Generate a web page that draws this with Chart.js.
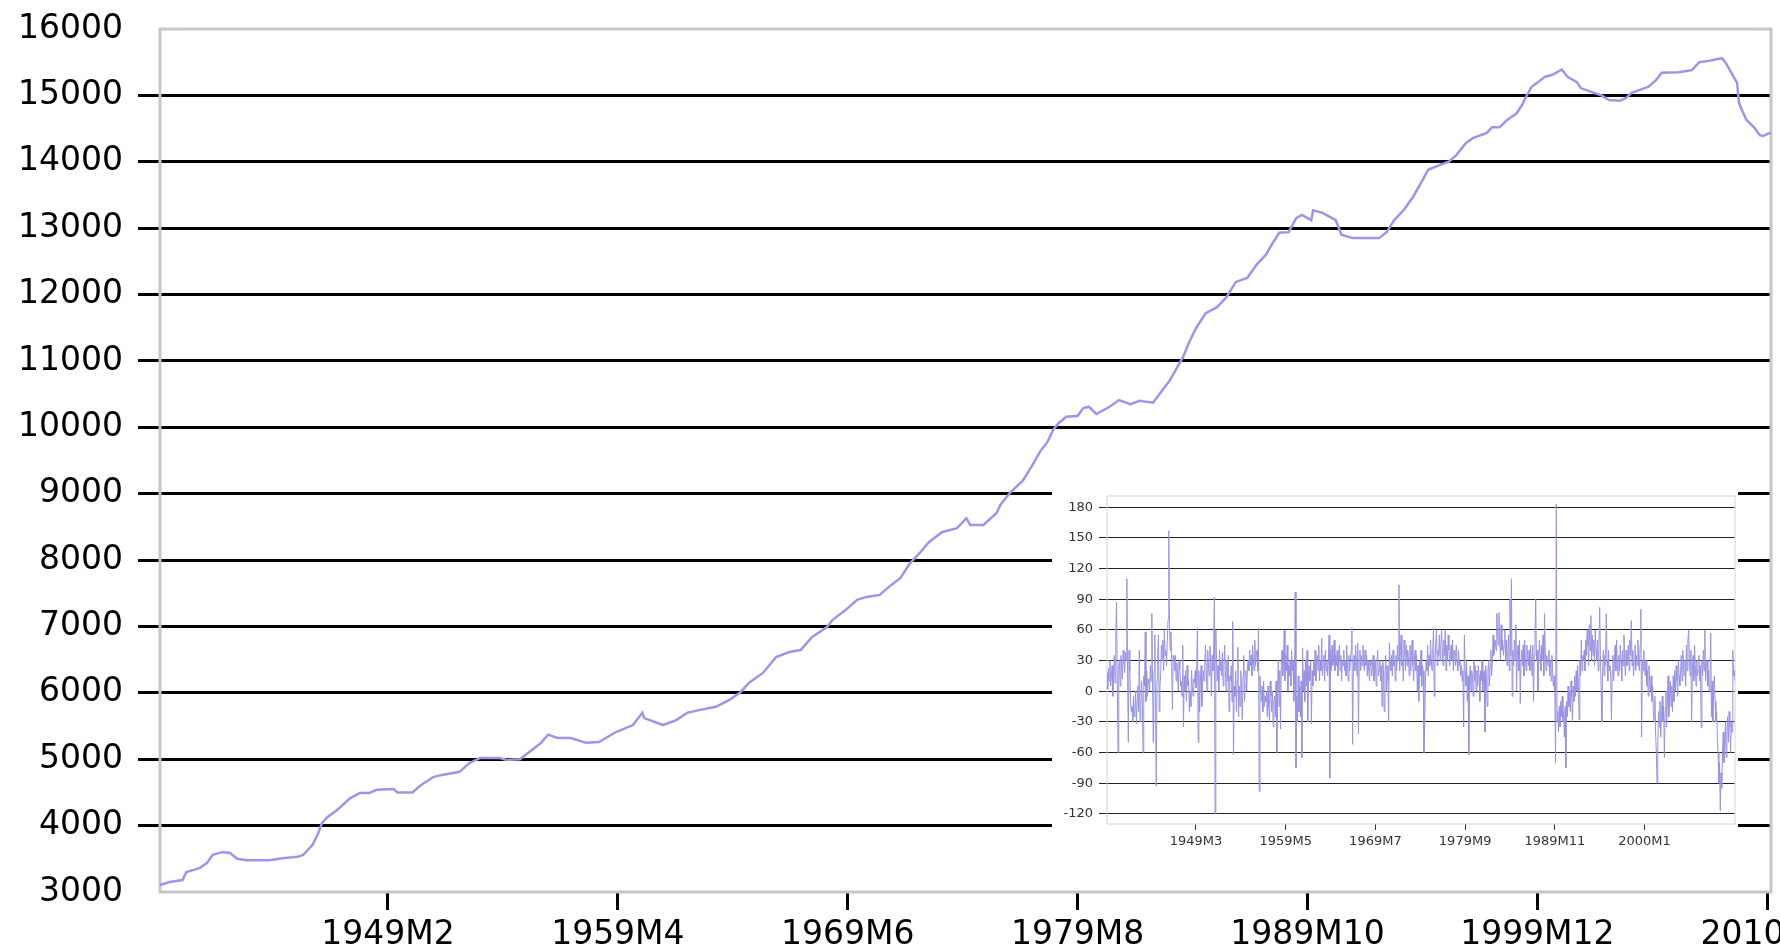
<!DOCTYPE html>
<html>
<head>
<meta charset="utf-8">
<script src="https://cdn.jsdelivr.net/npm/chart.js@4.4.1/dist/chart.umd.min.js"></script>
<style>
  html, body { margin: 0; padding: 0; background: #fff; overflow: hidden; }
  #wrap { position: relative; width: 1780px; height: 949px; }
  #mainChart { position: absolute; left: 0; top: 0; }
  #insetBox { position: absolute; left: 1052px; top: 490px; width: 686px; height: 380px; background: #fff; }
</style>
</head>
<body>
<div id="wrap">
  <canvas id="mainChart" width="1780" height="949"></canvas>
  <div id="insetBox"><canvas id="insetChart" width="686" height="380"></canvas></div>
</div>
<script>
// month index 0 = 1939M1 (levels)
const mainMonths = [
  0, 5, 12, 14, 21, 25, 28, 33, 37, 41, 46, 58, 65, 73, 76, 81, 84, 86, 89, 94,
  101, 106, 111, 115, 124, 126, 134, 138, 145, 149, 159, 164, 170, 180, 184, 191, 196, 202, 206, 211,
  218, 226, 233, 242, 251, 256, 257, 267, 274, 280, 286, 295, 302, 308, 313, 320, 327, 334, 340, 346,
  354, 357, 364, 370, 375, 382, 387, 393, 398, 403, 408, 415, 423, 428, 430, 437, 444, 446, 451, 458,
  463, 467, 471, 474, 477, 481, 487, 490, 493, 497, 504, 509, 515, 520, 527, 531, 536, 540, 543, 546,
  550, 555, 561, 566, 571, 577, 582, 587, 590, 594, 599, 603, 606, 611, 612, 617, 624, 627, 633, 647,
  651, 655, 660, 665, 670, 673, 679, 684, 688, 693, 697, 704, 707, 711, 715, 720, 723, 725, 728, 735,
  739, 744, 747, 752, 754, 760, 765, 769, 775, 778, 781, 785, 790, 794, 797, 806, 813, 817, 822, 829,
  831, 834, 837, 838, 840, 842, 846, 849, 851, 854, 855
];
const mainValues = [
  3105, 3150, 3180, 3300, 3360, 3440, 3560, 3600, 3590, 3500, 3480, 3480, 3510, 3530, 3560, 3710, 3890, 4040, 4130, 4235,
  4415, 4490, 4490, 4540, 4550, 4500, 4500, 4600, 4730, 4760, 4810, 4940, 5020, 5020, 4990, 5000, 5110, 5240, 5370, 5320,
  5320, 5250, 5260, 5410, 5515, 5700, 5620, 5515, 5590, 5700, 5740, 5790, 5890, 6010, 6160, 6300, 6540, 6615, 6645, 6840,
  6990, 7100, 7250, 7400, 7445, 7475, 7600, 7730, 7950, 8100, 8270, 8420, 8480, 8630, 8530, 8530, 8710, 8830, 9010, 9200,
  9430, 9630, 9780, 9960, 10065, 10160, 10170, 10290, 10310, 10200, 10310, 10410, 10350, 10400, 10370, 10520, 10710, 10910, 11060, 11270,
  11500, 11720, 11810, 11960, 12190, 12250, 12450, 12600, 12750, 12930, 12940, 13150, 13200, 13120, 13270, 13230, 13120, 12900, 12850, 12850,
  12940, 13120, 13270, 13470, 13720, 13880, 13950, 14000, 14100, 14280, 14360, 14430, 14520, 14520, 14630, 14730, 14860, 14980, 15130, 15280,
  15310, 15390, 15280, 15200, 15110, 15050, 15000, 14930, 14920, 14960, 15040, 15080, 15130, 15230, 15340, 15350, 15380, 15500, 15520, 15560,
  15490, 15340, 15190, 14890, 14750, 14630, 14520, 14400, 14390, 14430, 14430
];

// monthly changes, index 0 = 1939M2 (inset), one row per year
const diffValues = [
  18, 2, 22, 10, 30, 5, 15, 25, -5, 20, 35, 8,
  55, 87, 10, -60, 25, 30, 5, 35, 20, 12, 40, 28,
  18, 38, 30, 110, 15, -50, 40, 20, -10, -20, -15, -30,
  -5, -25, -18, 0, -32, -10, 5, -20, 40, -30, -15, 10,
  -8, -60, 15, 5, 58, -10, 20, -5, 12, 8, 0, 25,
  10, 76, 5, -50, 20, 55, -20, -93, 10, 35, 55, -20,
  5, 15, 45, 30, 50, 20, 60, 35, 40, 25, 50, 70,
  157, 65, 40, 58, 25, -18, 35, 30, 20, 35, 10, 28,
  15, 0, 30, 22, 5, 10, -5, 45, -35, 15, 0, 20,
  -10, 25, 5, 10, -20, 0, -15, 20, 5, -5, 12, 8,
  20, 3, 25, 62, -50, 20, -20, 10, 25, -15, 5, 20,
  10, 30, 45, 20, 0, 40, 25, 15, 44, 30, -5, 35,
  20, 40, 92, -120, 60, 30, 10, 25, 0, 40, 20, 30,
  15, 38, 5, 25, 45, 20, 0, 30, 10, 35, -20, 15,
  10, 25, -10, 68, -62, 5, -5, 20, -20, 10, 43, -25,
  5, -15, 20, 0, -28, 15, 35, -10, 5, 20, 0, 25,
  30, 20, 40, 25, 35, 15, 45, 30, 20, 50, 25, 35,
  40, 20, 62, -98, 15, 0, -10, 5, -20, 10, -15, -5,
  -10, 0, -25, 5, -15, -30, 10, -5, -20, 0, -35, -10,
  -5, -25, 10, -60, 5, 30, -15, 20, -37, 25, 40, 15,
  30, 60, 10, 35, 20, 45, 0, 25, 15, 30, 5, 40,
  20, 30, -10, 10, 97, -75, -5, -30, 15, -20, 5, -25,
  10, -65, 42, 0, 20, -10, 30, 5, 40, -30, 15, 25,
  10, 30, -32, 20, 5, 30, 15, 40, 10, 25, 35, 20,
  45, 10, 30, 20, 52, 15, 25, 35, 10, 40, 20, 30,
  15, 30, 55, -85, 40, 20, 45, 25, 30, 50, 20, 35,
  25, 40, 15, 30, 45, 20, 35, 10, 30, 25, 40, 20,
  30, 15, 45, 25, 10, 35, 20, 30, 40, 62, -52, 25,
  35, 20, 45, 30, 15, 47, -42, 30, 40, 20, 35, 25,
  45, 30, 20, 40, 25, 35, 15, 30, 20, 10, 30, 25,
  15, 25, 35, 10, 20, 30, 5, 25, 40, 15, 20, 30,
  10, 25, -15, 30, 20, -20, 15, 35, 0, 25, 10, -30,
  47, 30, 20, 35, 15, 40, 25, 30, 10, 35, 20, 45,
  30, 104, 20, 40, 55, 25, 30, 10, 50, 35, 20, 45,
  25, 40, 30, 15, 45, 20, 35, 50, 25, 10, 30, 40,
  20, 35, 0, 25, -10, 30, 15, 40, 5, 25, 20, -60,
  -35, 10, 30, 20, 45, 15, 35, 25, 50, 30, 20, 40,
  62, -5, 30, 45, 60, 25, 40, 35, 55, 30, 45, 60,
  40, 25, 50, 35, 60, 20, 45, 30, 55, 40, 25, 35,
  45, 30, 50, 20, 40, 35, 25, 45, 30, 20, 40, 25,
  30, 15, 25, 10, 20, -35, 55, 20, 5, 30, -10, 15,
  -62, 10, 25, 0, 20, 15, -5, 30, 10, 25, 0, 20,
  5, 25, 15, -10, 20, 10, 30, 0, 15, 20, -40, 25,
  10, -15, 20, 30, 5, 25, 40, 15, 30, 55, 35, 45,
  50, 40, 76, 60, 45, 77, 55, 30, 65, 40, 50, 35,
  45, 60, 30, 50, 25, 40, 55, 20, 90, 35, 110, -5,
  40, 25, 50, 30, 65, 0, 35, 45, 20, 50, -12, 30,
  40, 25, 45, 15, 50, 30, 20, 45, 35, 25, 40, 20,
  45, 30, 15, 45, -10, 35, 50, 90, 30, 40, 0, 25,
  50, 35, 20, 45, 30, 55, 15, 76, 40, 20, 35, 30,
  25, 40, 15, 30, 10, 35, 20, 5, 15, 0, -70, 183,
  -30, -20, -40, -15, -35, -10, -25, -5, -30, -20, -45, -15,
  -75, -10, -25, 5, -15, 0, -20, 10, -5, -30, 5, -10,
  15, -5, 20, 0, 25, 10, -28, 30, 15, 50, 20, 35,
  30, 40, 20, 50, 35, 60, 45, 25, 65, 40, 74, 30,
  55, 35, 50, 25, 60, 40, 30, 50, 20, 45, 82, 35,
  0, -30, 20, 40, 15, 35, 25, 76, 30, 10, 40, 20,
  25, 15, -28, 20, 35, 10, 30, 45, 20, 50, 25, 15,
  35, 20, 45, 30, 10, 40, 25, 55, 30, 15, 40, 25,
  30, 45, 20, 50, 35, 69, 25, 40, 15, 30, 45, 20,
  35, 25, 50, 30, 20, 45, 80, -45, 30, 20, 40, 25,
  15, 30, 5, 20, -5, 25, 10, 0, 15, -10, 5, -20,
  -30, -5, -40, -60, -90, -55, -20, -35, -10, -45, -25, -5,
  -30, -15, -65, -20, 0, -35, -10, 15, -25, -5, 10, -15,
  5, -20, 15, -10, 20, 0, 25, 10, -5, 30, 15, 5,
  20, 35, 10, 40, 25, 15, 30, 5, 45, 20, 50, 60,
  30, 15, 40, -30, 20, 35, 10, 45, 25, 5, 30, 15,
  20, 35, 10, 25, -36, 30, 15, 40, 20, 60, 10, 25,
  30, 5, 20, 0, 15, 57, -25, 10, -30, 0, 15, -10,
  -30, -20, -45, -60, -90, -70, -117, -80, -95, -60, -40, -70,
  -55, -30, -65, -40, -25, -50, -20, -35, -60, -30, -40, 40,
  15, 20, 10
];

const yTicks = [3000, 4000, 5000, 6000, 7000, 8000, 9000, 10000, 11000, 12000, 13000, 14000, 15000, 16000];
const xTickMonths = [121, 243, 365, 487, 609, 731, 853];
const xTickLabels = ['1949M2', '1959M4', '1969M6', '1979M8', '1989M10', '1999M12', '2010M2'];

const insetYTicks = [-120, -90, -60, -30, 0, 30, 60, 90, 120, 150, 180];
const insetTickMonths = [121, 243, 365, 487, 609, 731];
const insetTickLabels = ['1949M3', '1959M5', '1969M7', '1979M9', '1989M11', '2000M1'];

// grey box round the plot area
const framePlugin = {
  id: 'frame',
  beforeDatasetsDraw(chart, args, opts) {
    const a = chart.chartArea;
    const ctx = chart.ctx;
    ctx.save();
    ctx.strokeStyle = opts.color;
    ctx.lineWidth = opts.width;
    ctx.strokeRect(a.left, a.top, a.right - a.left, a.bottom - a.top);
    ctx.restore();
  }
};

const mainChart = new Chart(document.getElementById('mainChart'), {
  type: 'line',
  data: {
    datasets: [{
      data: mainMonths.map((m, i) => ({ x: m, y: mainValues[i] })),
      borderColor: '#9d95e8',
      borderWidth: 2.5,
      pointRadius: 0,
      tension: 0,
      fill: false
    }]
  },
  options: {
    responsive: false,
    animation: false,
    devicePixelRatio: 1,
    layout: { padding: { left: 0, right: 9, top: 29, bottom: 0 } },
    plugins: {
      legend: { display: false },
      tooltip: { enabled: false },
      frame: { color: '#c3c7cb', width: 3 }
    },
    scales: {
      x: {
        type: 'linear',
        min: 0,
        max: 855,
        afterBuildTicks: s => { s.ticks = xTickMonths.map(v => ({ value: v })); },
        afterFit: s => { s.height = 57; s.paddingLeft = 0; s.paddingRight = 0; },
        grid: { drawOnChartArea: false, drawTicks: true, tickLength: 18, color: '#000', lineWidth: 3 },
        border: { display: false },
        ticks: {
          autoSkip: false,
          maxRotation: 0,
          padding: 6,
          color: '#000',
          font: { family: 'DejaVu Sans', size: 33 },
          callback: v => xTickLabels[xTickMonths.indexOf(v)]
        }
      },
      y: {
        min: 3000,
        max: 16000,
        afterBuildTicks: s => { s.ticks = yTicks.map(v => ({ value: v })); },
        afterFit: s => { s.width = 160; s.paddingTop = 0; s.paddingBottom = 0; },
        grid: {
          tickLength: 22,
          lineWidth: 3,
          color: c => (c.tick && (c.tick.value === 3000 || c.tick.value === 16000)) ? 'rgba(0,0,0,0)' : '#000'
        },
        border: { display: false },
        ticks: {
          padding: 15,
          color: '#000',
          font: { family: 'DejaVu Sans', size: 33 },
          callback: v => String(v)
        }
      }
    }
  },
  plugins: [framePlugin]
});

const insetChart = new Chart(document.getElementById('insetChart'), {
  type: 'line',
  data: {
    datasets: [{
      data: diffValues.map((v, i) => ({ x: i, y: v })),
      borderColor: 'rgb(150,146,226)',
      borderWidth: 1,
      pointRadius: 0,
      tension: 0,
      fill: false
    }]
  },
  options: {
    responsive: false,
    animation: false,
    devicePixelRatio: 1,
    layout: { padding: { left: 0, right: 3, top: 6, bottom: 0 } },
    plugins: {
      legend: { display: false },
      tooltip: { enabled: false },
      frame: { color: '#d4d4d4', width: 1 }
    },
    scales: {
      x: {
        type: 'linear',
        min: 0,
        max: 854,
        afterBuildTicks: s => { s.ticks = insetTickMonths.map(v => ({ value: v })); },
        afterFit: s => { s.height = 46; s.paddingLeft = 0; s.paddingRight = 0; },
        grid: { drawOnChartArea: false, drawTicks: true, tickLength: 6, color: '#333', lineWidth: 1 },
        border: { display: false },
        ticks: {
          autoSkip: false,
          maxRotation: 0,
          padding: 4,
          color: '#333',
          font: { family: 'DejaVu Sans', size: 13 },
          callback: v => insetTickLabels[insetTickMonths.indexOf(v)]
        }
      },
      y: {
        min: -130,
        max: 191,
        afterBuildTicks: s => { s.ticks = insetYTicks.map(v => ({ value: v })); },
        afterFit: s => { s.width = 55; s.paddingTop = 0; s.paddingBottom = 0; },
        grid: { tickLength: 8, lineWidth: 1, color: '#222' },
        border: { display: false },
        ticks: {
          padding: 6,
          color: '#333',
          font: { family: 'DejaVu Sans', size: 13 },
          callback: v => String(v)
        }
      }
    }
  },
  plugins: [framePlugin]
});
</script>
</body>
</html>
